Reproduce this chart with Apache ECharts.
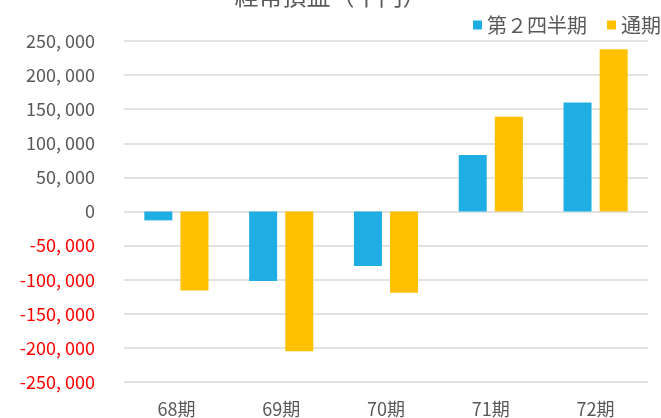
<!DOCTYPE html>
<html>
<head>
<meta charset="utf-8">
<script src="https://cdn.jsdelivr.net/npm/echarts@6/dist/echarts.min.js"></script>
<style>
  html, body { margin: 0; padding: 0; background: #ffffff; }
  #chart { width: 661px; height: 418px; }
</style>
</head>
<body>
<div id="chart"></div>
<script>
// 期ごとの経常損益（千円）
const titleText = '経常損益（千円）';
const categories = ['68期', '69期', '70期', '71期', '72期'];
const seriesNames = ['第２四半期', '通期'];
const secondQuarter = [-13000, -102000, -80000, 83000, 160000];
const fullYear = [-116000, -205000, -119000, 139000, 238000];
const yMin = -250000;
const yMax = 250000;
const yStep = 50000;

const FONT = '"Noto Sans CJK JP", "Noto Sans", sans-serif';
const GREY = '#595959';

const chart = echarts.init(document.getElementById('chart'), null, { renderer: 'canvas' });
chart.setOption({
  animation: false,
  backgroundColor: '#ffffff',
  title: {
    text: titleText,
    left: 'center',
    top: -21,
    textStyle: { fontFamily: FONT, fontSize: 24, fontWeight: 'normal', color: GREY }
  },
  legend: {
    orient: 'horizontal',
    left: 468,
    top: 10,
    width: 400,
    itemWidth: 9,
    itemHeight: 9,
    itemGap: 20,
    icon: 'rect',
    textStyle: { fontFamily: FONT, fontSize: 20, color: GREY },
    data: seriesNames
  },
  grid: { left: 124, right: 13, top: 41, bottom: 35, containLabel: false },
  xAxis: {
    type: 'category',
    data: categories,
    axisLine: { show: false, onZero: false },
    axisTick: { show: false },
    axisLabel: { margin: 18, fontFamily: FONT, fontSize: 18, color: GREY }
  },
  yAxis: {
    type: 'value',
    min: yMin,
    max: yMax,
    interval: yStep,
    axisLine: { show: false },
    axisTick: { show: false },
    splitLine: { lineStyle: { color: '#d9d9d9', width: 1.5 } },
    axisLabel: {
      margin: 29,
      fontFamily: FONT,
      fontSize: 18,
      color: (v) => (Number(v) < 0 ? '#ff0000' : GREY),
      formatter: (v) => v.toLocaleString('en-US').replace(/,/g, ', ')
    }
  },
  series: [
    {
      name: seriesNames[0],
      type: 'bar',
      data: secondQuarter,
      barWidth: 28,
      barGap: '29%',
      itemStyle: { color: '#1eaee3' }
    },
    {
      name: seriesNames[1],
      type: 'bar',
      data: fullYear,
      barWidth: 28,
      itemStyle: { color: '#ffc000' }
    }
  ]
});
</script>
</body>
</html>
